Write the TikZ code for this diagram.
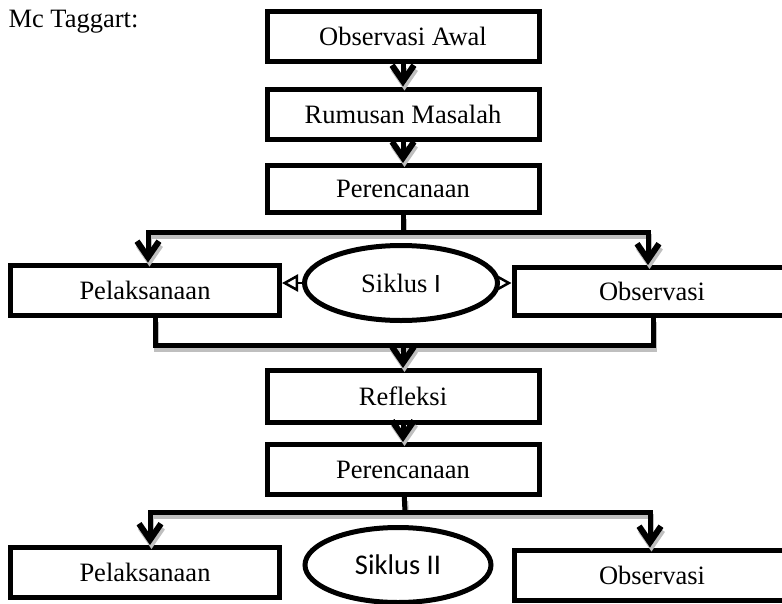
\documentclass[tikz,border=0pt]{standalone}
\usepackage{fontspec}
\setmainfont{Liberation Serif}
\newfontfamily\calibrifont{Carlito}
\usetikzlibrary{arrows.meta,shapes.geometric}

\begin{document}
\begin{tikzpicture}[x=1pt,y=-1pt,
  font=\fontsize{26.5}{30}\selectfont,
  box/.style={draw=black,fill=white,line width=5pt,inner sep=0pt,
    minimum width=272pt,minimum height=50pt},
  oval/.style={ellipse,draw=black,fill=white,line width=5pt,inner sep=0pt},
  line/.style={line width=5pt},
  arr/.style={line,-{Straight Barb[length=16pt,width=22pt,line width=6pt]}},
  side/.style={line width=2.5pt,-{Triangle[open,length=16pt,width=17pt]}}]
  \useasboundingbox (0,0) rectangle (782,603);
  % judul
  \node (title) [anchor=base west] at (5,27) {Mc Taggart:};
  % kotak
  \node (oawal) [box] at (403,36) {Observasi Awal};
  \node (rumusan) [box] at (403,114) {Rumusan Masalah};
  \node (ren1) [box,minimum height=47pt] at (403,189) {Perencanaan};
  \node (pel1) [box,minimum width=269pt] at (145,290) {Pelaksanaan};
  \node (sik1) [oval,minimum width=193pt,minimum height=75pt] at (401,283) {Siklus {\calibrifont I}};
  \node (obs1) [box,minimum width=276pt,minimum height=48pt] at (652,291.5) {Observasi};
  \node (ref) [box,minimum height=52pt] at (403,396.5) {Refleksi};
  \node (ren2) [box] at (403,469.5) {Perencanaan};
  \node (pel2) [box,minimum width=269pt] at (145,572.5) {Pelaksanaan};
  \node (sik2) [oval,minimum width=186pt,minimum height=75pt] at (398,565) {\calibrifont\fontsize{28.5}{30}\selectfont Siklus II};
  \node (obs2) [box,minimum width=276pt] at (652,575) {Observasi};
  \coordinate (split1) at (403,232);
  \coordinate (ret1) at (403,345);
  \coordinate (split2) at (405,512);
  % panah, first pass = gray shadow
  \foreach \dx/\dy/\col in {1.5/4/gray!50,0/0/black}
  {\begin{scope}[transform canvas={shift={(\dx pt,-\dy pt)}},color=\col]
  \draw[arr] (oawal) -- (rumusan);
  \draw[arr] (rumusan) -- (ren1);
  \draw[line] (ren1) -- (split1);
  \draw[arr] (split1) -| ([xshift=3pt]pel1.north);
  \draw[arr] (split1) -| ([xshift=-4pt]obs1.north);
  \draw[line] ([xshift=10pt]pel1.south) |- (ret1) -| ([xshift=1pt]obs1.south);
  \draw[arr] (ret1) -- (ref);
  \draw[arr] (ref) -- (ren2);
  \draw[line] (ren2) -- (split2);
  \draw[arr] (split2) -| ([xshift=5pt]pel2.north);
  \draw[arr] (split2) -| ([xshift=-2pt]obs2.north);
  \end{scope}
  };
  \draw[side] (sik1.west) -- (sik1.west -| pel1.east);
  \draw[side] (sik1.east) -- (sik1.east -| obs1.west);
\end{tikzpicture}
\end{document}
